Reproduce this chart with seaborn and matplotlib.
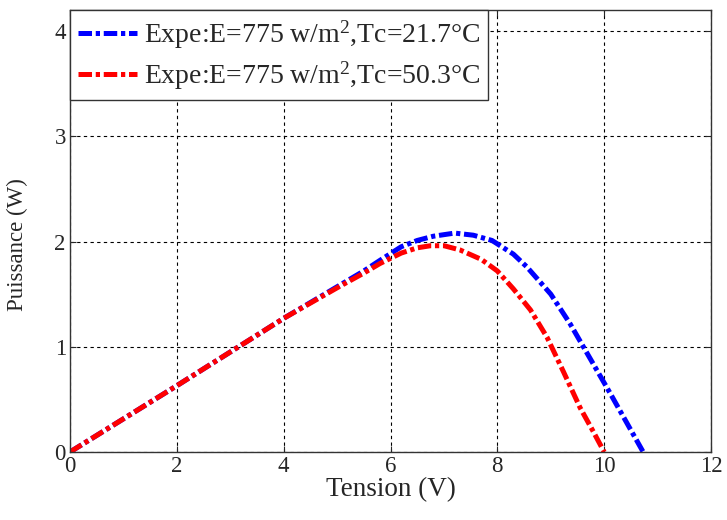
import matplotlib
matplotlib.use("Agg")
import matplotlib.pyplot as plt
import seaborn as sns
import pandas as pd

# Measured P-V curves (voltage in V, power in W)
v_cold = [0.0, 1.0, 2.0, 3.0, 4.0, 5.0, 5.5, 5.8, 6.2, 6.5, 6.8, 7.2, 7.55, 7.9, 8.3,
          8.55, 9.0, 9.36, 9.61, 9.86, 10.11, 10.42, 10.73]
p_cold = [0.0, 0.315, 0.63, 0.95, 1.27, 1.57, 1.72, 1.82, 1.95, 2.01, 2.05, 2.08, 2.06, 2.01, 1.88,
          1.76, 1.50, 1.22, 1.0, 0.78, 0.56, 0.28, 0.0]

v_hot = [0.0, 1.0, 2.0, 3.0, 4.0, 5.0, 5.5, 5.8, 6.2, 6.5, 6.75, 7.0, 7.3, 7.7, 8.0,
         8.3, 8.62, 8.93, 9.24, 9.55, 9.8, 10.0]
p_hot = [0.0, 0.315, 0.63, 0.95, 1.27, 1.56, 1.70, 1.79, 1.89, 1.94, 1.96, 1.96, 1.92, 1.83, 1.72,
         1.55, 1.35, 1.09, 0.76, 0.42, 0.19, 0.0]

label_cold = "Expe:E=775 w/m$^{2}$,Tc=21.7°C"
label_hot = "Expe:E=775 w/m$^{2}$,Tc=50.3°C"

df = pd.concat([
    pd.DataFrame({"Tension": v_cold, "Puissance": p_cold, "serie": label_cold}),
    pd.DataFrame({"Tension": v_hot, "Puissance": p_hot, "serie": label_hot}),
])

sns.set_style("ticks")
plt.rcParams["font.family"] = ["Liberation Serif", "DejaVu Serif"]
plt.rcParams["mathtext.fontset"] = "custom"
plt.rcParams["mathtext.rm"] = "Liberation Serif"
plt.rcParams["mathtext.it"] = "Liberation Serif:italic"

fig = plt.figure(figsize=(7.27, 5.2), dpi=100)
ax = fig.add_axes([0.0963, 0.1308, 0.8817, 0.85])

# dash-dot pattern, in units of line width
dash = [2.7, 0.75, 0.85, 0.75]
lw = 3.6

sns.lineplot(data=df, x="Tension", y="Puissance", hue="serie",
             palette={label_cold: "#0000ff", label_hot: "#ff0000"},
             sort=False, estimator=None, linewidth=lw, ax=ax)
for line in ax.get_lines():
    line.set_dashes(dash)
    line.set_dash_capstyle("butt")

ax.set_xlim(0, 12)
ax.set_ylim(0, 4.2)
ax.set_xticks(range(0, 13, 2))
ax.set_yticks(range(0, 5))
ax.grid(True, color="black", linestyle=(0, (3, 3)), linewidth=0.8)
ax.tick_params(direction="in", top=True, right=True, labelsize=16.5, length=4, width=0.8, pad=3)
for s in ax.spines.values():
    s.set_linewidth(1.0)
    s.set_color("#333333")

ax.set_xlabel("Tension (V)", fontsize=19.5, labelpad=0)
ax.set_ylabel("Puissance (W)", fontsize=16.5)
ax.yaxis.set_label_coords(-0.066, 0.47)

leg = ax.legend(loc="upper left", fontsize=20, frameon=True, fancybox=False,
                edgecolor="#333333", framealpha=1, borderaxespad=0,
                handlelength=2.1, handletextpad=0.25, borderpad=0.3,
                labelspacing=0.3)
leg.get_frame().set_linewidth(1.0)
for h in leg.get_lines():
    h.set_linewidth(lw)
    h.set_dashes(dash)
    h.set_dash_capstyle("butt")

fig.savefig("out.png", dpi=100)
